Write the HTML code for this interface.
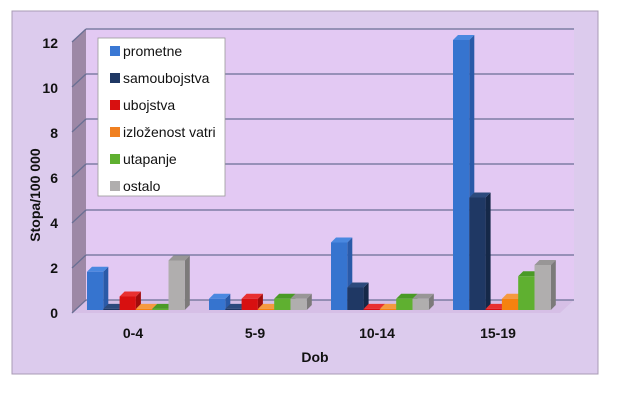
<!DOCTYPE html>
<html><head><meta charset="utf-8"><style>
body{margin:0;background:#fff;}
svg{display:block;font-family:"Liberation Sans",sans-serif;}
.c0 .f{fill:#3674cf}.c0 .s{fill:#2a5aa8}.c0 .t{fill:#4a88e0}
.c1 .f{fill:#1f3864}.c1 .s{fill:#152848}.c1 .t{fill:#2c4a7c}
.c2 .f{fill:#d81010}.c2 .s{fill:#a00c0c}.c2 .t{fill:#e83030}
.c3 .f{fill:#f5820f}.c3 .s{fill:#c0600a}.c3 .t{fill:#f59a40}
.c4 .f{fill:#5fb030}.c4 .s{fill:#3f8a1c}.c4 .t{fill:#4a9a26}
.c5 .f{fill:#b0aeae}.c5 .s{fill:#7c7a7a}.c5 .t{fill:#989696}
</style></head><body>
<svg width="642" height="415" viewBox="0 0 642 415">
<rect x="12" y="11" width="586" height="363" fill="#dccbed" stroke="#a99bb5" stroke-width="1"/>
<rect x="86" y="29" width="488" height="271" fill="#e3c9f3"/>
<polygon points="72,42 86,29 86,300 72,313" fill="#9d88a6"/>
<polygon points="72,313 86,300 574,300 560,313" fill="#d6bfe6"/>
<g stroke="#6a6f94" stroke-width="1.3" fill="none">
<line x1="86" y1="29" x2="574" y2="29"/><line x1="72" y1="42" x2="86" y2="29"/>
<line x1="86" y1="74" x2="574" y2="74"/><line x1="72" y1="87" x2="86" y2="74"/>
<line x1="86" y1="119" x2="574" y2="119"/><line x1="72" y1="132" x2="86" y2="119"/>
<line x1="86" y1="164" x2="574" y2="164"/><line x1="72" y1="177" x2="86" y2="164"/>
<line x1="86" y1="210" x2="574" y2="210"/><line x1="72" y1="223" x2="86" y2="210"/>
<line x1="86" y1="255" x2="574" y2="255"/><line x1="72" y1="268" x2="86" y2="255"/>
<line x1="86" y1="300" x2="574" y2="300"/><line x1="72" y1="313" x2="86" y2="300"/>
</g>
<g class="c0" transform="translate(87,271.75)"><polygon class="s" points="16.3,0 21.3,-5 21.3,33.25 16.3,38.25"/><polygon class="t" points="0,0 5,-5 21.3,-5 16.3,0"/><rect class="f" width="16.3" height="38.25"/></g>
<g class="c1" transform="translate(103.3,308.9)"><polygon class="s" points="16.3,0 21.3,-5 21.3,-3.9 16.3,1.1"/><polygon class="t" points="0,0 5,-5 21.3,-5 16.3,0"/><rect class="f" width="16.3" height="1.1"/></g>
<g class="c2" transform="translate(119.6,296.5)"><polygon class="s" points="16.3,0 21.3,-5 21.3,8.5 16.3,13.5"/><polygon class="t" points="0,0 5,-5 21.3,-5 16.3,0"/><rect class="f" width="16.3" height="13.5"/></g>
<g class="c3" transform="translate(135.9,308.9)"><polygon class="s" points="16.3,0 21.3,-5 21.3,-3.9 16.3,1.1"/><polygon class="t" points="0,0 5,-5 21.3,-5 16.3,0"/><rect class="f" width="16.3" height="1.1"/></g>
<g class="c4" transform="translate(152.2,308.9)"><polygon class="s" points="16.3,0 21.3,-5 21.3,-3.9 16.3,1.1"/><polygon class="t" points="0,0 5,-5 21.3,-5 16.3,0"/><rect class="f" width="16.3" height="1.1"/></g>
<g class="c5" transform="translate(168.5,260.5)"><polygon class="s" points="16.3,0 21.3,-5 21.3,44.5 16.3,49.5"/><polygon class="t" points="0,0 5,-5 21.3,-5 16.3,0"/><rect class="f" width="16.3" height="49.5"/></g>
<g class="c0" transform="translate(209,298.75)"><polygon class="s" points="16.3,0 21.3,-5 21.3,6.25 16.3,11.25"/><polygon class="t" points="0,0 5,-5 21.3,-5 16.3,0"/><rect class="f" width="16.3" height="11.25"/></g>
<g class="c1" transform="translate(225.3,308.9)"><polygon class="s" points="16.3,0 21.3,-5 21.3,-3.9 16.3,1.1"/><polygon class="t" points="0,0 5,-5 21.3,-5 16.3,0"/><rect class="f" width="16.3" height="1.1"/></g>
<g class="c2" transform="translate(241.6,298.75)"><polygon class="s" points="16.3,0 21.3,-5 21.3,6.25 16.3,11.25"/><polygon class="t" points="0,0 5,-5 21.3,-5 16.3,0"/><rect class="f" width="16.3" height="11.25"/></g>
<g class="c3" transform="translate(257.9,308.9)"><polygon class="s" points="16.3,0 21.3,-5 21.3,-3.9 16.3,1.1"/><polygon class="t" points="0,0 5,-5 21.3,-5 16.3,0"/><rect class="f" width="16.3" height="1.1"/></g>
<g class="c4" transform="translate(274.2,298.75)"><polygon class="s" points="16.3,0 21.3,-5 21.3,6.25 16.3,11.25"/><polygon class="t" points="0,0 5,-5 21.3,-5 16.3,0"/><rect class="f" width="16.3" height="11.25"/></g>
<g class="c5" transform="translate(290.5,298.75)"><polygon class="s" points="16.3,0 21.3,-5 21.3,6.25 16.3,11.25"/><polygon class="t" points="0,0 5,-5 21.3,-5 16.3,0"/><rect class="f" width="16.3" height="11.25"/></g>
<g class="c0" transform="translate(331,242.5)"><polygon class="s" points="16.3,0 21.3,-5 21.3,62.5 16.3,67.5"/><polygon class="t" points="0,0 5,-5 21.3,-5 16.3,0"/><rect class="f" width="16.3" height="67.5"/></g>
<g class="c1" transform="translate(347.3,287.5)"><polygon class="s" points="16.3,0 21.3,-5 21.3,17.5 16.3,22.5"/><polygon class="t" points="0,0 5,-5 21.3,-5 16.3,0"/><rect class="f" width="16.3" height="22.5"/></g>
<g class="c2" transform="translate(363.6,308.9)"><polygon class="s" points="16.3,0 21.3,-5 21.3,-3.9 16.3,1.1"/><polygon class="t" points="0,0 5,-5 21.3,-5 16.3,0"/><rect class="f" width="16.3" height="1.1"/></g>
<g class="c3" transform="translate(379.9,308.9)"><polygon class="s" points="16.3,0 21.3,-5 21.3,-3.9 16.3,1.1"/><polygon class="t" points="0,0 5,-5 21.3,-5 16.3,0"/><rect class="f" width="16.3" height="1.1"/></g>
<g class="c4" transform="translate(396.2,298.75)"><polygon class="s" points="16.3,0 21.3,-5 21.3,6.25 16.3,11.25"/><polygon class="t" points="0,0 5,-5 21.3,-5 16.3,0"/><rect class="f" width="16.3" height="11.25"/></g>
<g class="c5" transform="translate(412.5,298.75)"><polygon class="s" points="16.3,0 21.3,-5 21.3,6.25 16.3,11.25"/><polygon class="t" points="0,0 5,-5 21.3,-5 16.3,0"/><rect class="f" width="16.3" height="11.25"/></g>
<g class="c0" transform="translate(453,40)"><polygon class="s" points="16.3,0 21.3,-5 21.3,265 16.3,270"/><polygon class="t" points="0,0 5,-5 21.3,-5 16.3,0"/><rect class="f" width="16.3" height="270"/></g>
<g class="c1" transform="translate(469.3,197.5)"><polygon class="s" points="16.3,0 21.3,-5 21.3,107.5 16.3,112.5"/><polygon class="t" points="0,0 5,-5 21.3,-5 16.3,0"/><rect class="f" width="16.3" height="112.5"/></g>
<g class="c2" transform="translate(485.6,308.9)"><polygon class="s" points="16.3,0 21.3,-5 21.3,-3.9 16.3,1.1"/><polygon class="t" points="0,0 5,-5 21.3,-5 16.3,0"/><rect class="f" width="16.3" height="1.1"/></g>
<g class="c3" transform="translate(501.9,298.75)"><polygon class="s" points="16.3,0 21.3,-5 21.3,6.25 16.3,11.25"/><polygon class="t" points="0,0 5,-5 21.3,-5 16.3,0"/><rect class="f" width="16.3" height="11.25"/></g>
<g class="c4" transform="translate(518.2,276.25)"><polygon class="s" points="16.3,0 21.3,-5 21.3,28.75 16.3,33.75"/><polygon class="t" points="0,0 5,-5 21.3,-5 16.3,0"/><rect class="f" width="16.3" height="33.75"/></g>
<g class="c5" transform="translate(534.5,265)"><polygon class="s" points="16.3,0 21.3,-5 21.3,40 16.3,45"/><polygon class="t" points="0,0 5,-5 21.3,-5 16.3,0"/><rect class="f" width="16.3" height="45"/></g>
<g font-size="14" font-weight="bold" fill="#111" text-anchor="end">
<text x="58" y="48">12</text><text x="58" y="93">10</text><text x="58" y="138">8</text>
<text x="58" y="183">6</text><text x="58" y="228">4</text><text x="58" y="273">2</text><text x="58" y="318">0</text>
</g>
<g font-size="14" font-weight="bold" fill="#111" text-anchor="middle">
<text x="133" y="338">0-4</text><text x="255" y="338">5-9</text><text x="377" y="338">10-14</text><text x="498" y="338">15-19</text>
<text x="315" y="362">Dob</text>
<text transform="translate(40,195) rotate(-90)">Stopa/100 000</text>
</g>
<rect x="98" y="38" width="127" height="158" fill="#fff" stroke="#999" stroke-width="0.8"/>
<g font-size="14" fill="#111">
<rect x="110" y="46" width="10" height="10" fill="#3a78d4"/><text x="123" y="56">prometne</text>
<rect x="110" y="73" width="10" height="10" fill="#1f3864"/><text x="123" y="83">samoubojstva</text>
<rect x="110" y="100" width="10" height="10" fill="#d81010"/><text x="123" y="110">ubojstva</text>
<rect x="110" y="127" width="10" height="10" fill="#f08020"/><text x="123" y="137">izloženost vatri</text>
<rect x="110" y="154" width="10" height="10" fill="#5fb030"/><text x="123" y="164">utapanje</text>
<rect x="110" y="181" width="10" height="10" fill="#b0aeae"/><text x="123" y="191">ostalo</text>
</g>
</svg>
</body></html>
